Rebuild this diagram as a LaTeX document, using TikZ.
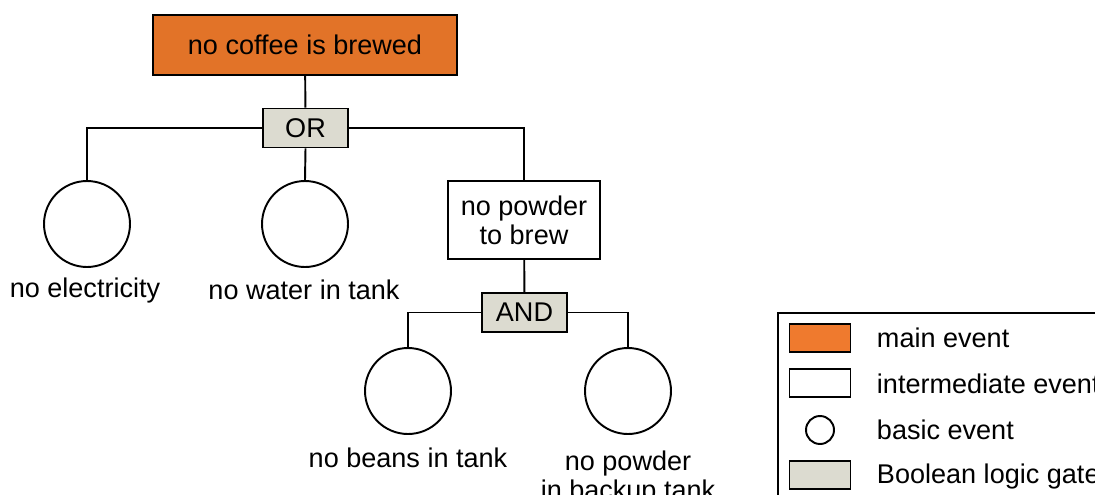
\documentclass[tikz,border=0pt]{standalone}
\usepackage{fontspec}
\setmainfont{Liberation Sans}
\usetikzlibrary{positioning}
\definecolor{mainorange}{HTML}{E27328}
\definecolor{legendorange}{HTML}{EF7A2E}
\definecolor{gategray}{HTML}{DCDBD0}

\begin{document}
\begin{tikzpicture}[x=0.02cm,y=-0.02cm,line width=1.1pt,
    font=\fontsize{15.4}{16.5}\selectfont,
    mainevent/.style={draw,fill=mainorange,minimum width=6.08cm,minimum height=1.2cm},
    midevent/.style={draw,fill=white,align=center,minimum width=3.04cm,minimum height=1.56cm},
    basicevent/.style={draw,circle,minimum size=1.72cm,inner sep=0pt},
    gate/.style={draw,fill=gategray,minimum width=1.7cm,minimum height=0.78cm,inner sep=0pt},
    eventtext/.style={align=center,inner sep=0pt}]
\useasboundingbox (0,0) rectangle (1095,494);
%\draw[help lines] (0,0) grid (1095,494);

    % tree
    \node[mainevent] (top) at (305,45) {no coffee is brewed};
    \node[gate] (orgate) at (305.5,128) {OR};
    \node[basicevent] (elec) at (87,224) {};
    \node[basicevent] (water) at (305,224) {};
    \node[midevent] (powder) at (524,220) {no powder\\to brew};
    \node[gate] (andgate) at (524.5,312.5) {AND};
    \node[basicevent] (beans) at (408,391) {};
    \node[basicevent] (backup) at (628,391) {};

    \node[eventtext] (electext) at (85,290) {no electricity};
    \node[eventtext] (watertext) at (304,290) {no water in tank};
    \node[eventtext] (beanstext) at (408,458) {no beans in tank};
    \node[eventtext,anchor=north] (backuptext) at (628,450) {no powder\\in backup tank};

    \draw (top) -- (orgate);
    \draw (orgate.west) -| (elec.north);
    \draw (orgate.south) -- (water.north);
    \draw (orgate.east) -| (powder.north);
    \draw (powder) -- (andgate);
    \draw (andgate.west) -| (beans.north);
    \draw (andgate.east) -| (backup.north);

    % legend
    \draw (778,313) rectangle (1130,520);
    \node[draw,fill=legendorange,minimum width=1.22cm,minimum height=0.56cm] (lmain) at (820,338) {};
    \node[draw,fill=white,minimum width=1.22cm,minimum height=0.56cm] (lmid) at (820,383) {};
    \node[draw,circle,minimum size=0.56cm,inner sep=0pt] (lbasic) at (820,430) {};
    \node[draw,fill=gategray,minimum width=1.22cm,minimum height=0.56cm] (lgate) at (820,475) {};
    \node[anchor=west,inner sep=0pt] at (876,338) {main event};
    \node[anchor=west,inner sep=0pt] at (876,384) {intermediate event};
    \node[anchor=west,inner sep=0pt] at (876,430) {basic event};
    \node[anchor=west,inner sep=0pt] at (876,476) {Boolean logic gate};
\end{tikzpicture}
\end{document}
